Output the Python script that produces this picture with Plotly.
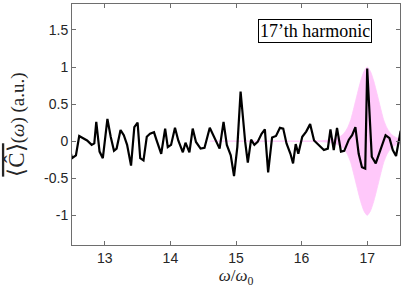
import plotly.graph_objects as go

# Signal (black line)
omega = [12.48, 12.50, 12.56, 12.61, 12.67, 12.73, 12.80, 12.84, 12.87, 12.92,
         12.97, 13.04, 13.09, 13.14, 13.18, 13.24, 13.29, 13.34, 13.40, 13.45,
         13.50, 13.54, 13.59, 13.64, 13.69, 13.75, 13.79, 13.86, 13.92, 13.96,
         14.01, 14.07, 14.12, 14.19, 14.23, 14.29, 14.34, 14.39, 14.46, 14.52,
         14.60, 14.69, 14.75, 14.81, 14.86, 14.92, 14.97, 15.02, 15.07, 15.14,
         15.18, 15.23, 15.28, 15.33, 15.39, 15.44, 15.49, 15.55, 15.61, 15.67,
         15.72, 15.77, 15.83, 15.87, 15.91, 15.95, 16.01, 16.07, 16.13, 16.19,
         16.26, 16.34, 16.40, 16.44, 16.49, 16.54, 16.60, 16.65, 16.72, 16.77,
         16.82, 16.87, 16.92, 16.97, 17.00, 17.07, 17.13, 17.21, 17.28, 17.34,
         17.39, 17.44, 17.51]
signal = [-0.15, -0.23, -0.19, 0.07, 0.04, 0.01, -0.05, -0.03, 0.26, -0.14,
          -0.23, 0.30, 0.06, -0.13, -0.10, 0.15, 0.08, -0.05, -0.33, 0.19,
          0.25, -0.23, -0.26, 0.06, 0.10, 0.12, 0.01, -0.17, 0.17, -0.08,
          -0.05, 0.18, 0.01, -0.15, -0.02, -0.15, 0.17, -0.01, -0.10, -0.09,
          0.18, 0.01, -0.10, 0.26, -0.05, -0.19, -0.47, -0.08, 0.67, -0.01,
          -0.29, 0.02, -0.05, -0.01, 0.10, 0.16, -0.42, 0.05, 0.07, 0.18,
          0.17, -0.03, -0.17, -0.30, -0.04, -0.17, 0.06, 0.13, 0.23, 0.01,
          -0.05, -0.12, -0.10, 0.16, -0.12, 0.18, -0.14, -0.13, 0.02, 0.08,
          0.19, -0.17, -0.35, -0.37, 0.98, -0.21, -0.30, -0.08, 0.08, 0.04,
          -0.12, -0.20, 0.14]

# Envelope (pink band, +/-)
env_omega = [14.60, 15.00, 15.50, 16.00, 16.30, 16.40, 16.50, 16.55, 16.60, 16.65,
             16.70, 16.75, 16.80, 16.85, 16.90, 16.95, 17.00, 17.05, 17.10, 17.15,
             17.20, 17.25, 17.30, 17.35, 17.40, 17.45, 17.50]
env_amp = [0.0, 0.0, 0.0, 0.002, 0.006, 0.015, 0.03, 0.045, 0.07, 0.11,
           0.18, 0.29, 0.46, 0.64, 0.81, 0.94, 1.00, 0.94, 0.81, 0.64,
           0.46, 0.29, 0.18, 0.11, 0.07, 0.045, 0.03]

x_ticks = [13, 14, 15, 16, 17]
y_ticks = [-1, -0.5, 0, 0.5, 1, 1.5]
y_tick_labels = ["-1", "-0.5", "0", "0.5", "1", "1.5"]

band_x = env_omega + env_omega[::-1]
band_y = env_amp + [-a for a in env_amp[::-1]]

fig = go.Figure()
fig.add_trace(go.Scatter(x=band_x, y=band_y, fill="toself", mode="lines",
                         line=dict(color="rgb(255,200,250)", width=0.8, shape="spline", smoothing=0.6),
                         fillcolor="rgb(255,200,250)", hoverinfo="skip", showlegend=False))
fig.add_trace(go.Scatter(x=omega, y=signal, mode="lines",
                         line=dict(color="black", width=2.2), showlegend=False))

axis_common = dict(showline=True, linecolor="#6e6e6e", linewidth=1, mirror="ticks",
                   ticks="inside", ticklen=4, tickcolor="#6e6e6e", showgrid=False,
                   zeroline=False, automargin=False,
                   tickfont=dict(family="Liberation Sans, Arial", size=14, color="#262626"))

fig.update_layout(
    width=402, height=295,
    margin=dict(l=72, r=2, t=4, b=50),
    paper_bgcolor="white", plot_bgcolor="white",
    xaxis=dict(range=[12.5, 17.5], tickvals=x_ticks, ticktext=[str(t) for t in x_ticks],
               title=dict(text="<i>ω</i>/<i>ω</i><sub>0</sub>", standoff=4,
                          font=dict(family="Liberation Serif, serif", size=17, color="#262626")),
               **axis_common),
    yaxis=dict(range=[-1.4, 1.85], tickvals=y_ticks, ticktext=y_tick_labels,
               title=dict(text="<span style='text-decoration:overline;font-size:23px'>⟨Ĉ⟩</span>(<i>ω</i>) (a.u.)", standoff=14,
                          font=dict(family="Liberation Serif, serif", size=19, color="#262626")),
               **axis_common),
    annotations=[dict(text="17’th harmonic", x=0.74, y=0.886, xref="paper", yref="paper",
                      xanchor="center", yanchor="middle",
                      showarrow=False, bordercolor="black", borderwidth=1, borderpad=1,
                      bgcolor="white", font=dict(family="Liberation Serif, serif", size=18, color="black"))],
)

fig.write_html("out.html", config={"displayModeBar": False},
               post_script="document.body.style.margin='0';")
